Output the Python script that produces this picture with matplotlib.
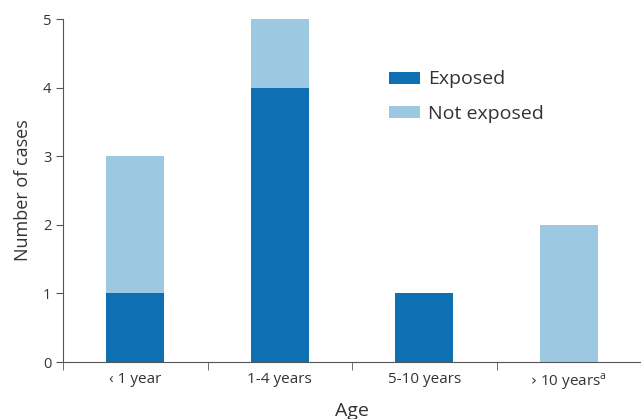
import matplotlib.pyplot as plt
import numpy as np

plt.rcParams['font.family'] = ['Open Sans', 'DejaVu Sans']

age_groups = ['\u2039 1 year', '1-4 years', '5-10 years', '\u203a 10 years$^{\\mathregular{a}}$']
exposed = [1, 4, 1, 0]
not_exposed = [2, 1, 0, 2]

dark = '#0e6fb2'
light = '#9cc8e2'
text_col = '#333333'

fig = plt.figure(figsize=(6.41, 4.19), dpi=100)
ax = fig.add_axes([0.0983, 0.136, 0.9017, 0.8186])

x = np.arange(len(age_groups))
ax.bar(x, exposed, width=0.4, color=dark, label='Exposed')
ax.bar(x, not_exposed, width=0.4, bottom=exposed, color=light, label='Not exposed')

ax.set_xlim(-0.5, 3.5)
ax.set_ylim(0, 5)
ax.set_yticks(range(6))
ax.set_xticks(x)
ax.set_xticklabels(age_groups)
ax.set_xticks(np.arange(-0.5, 4, 1), minor=True)
ax.tick_params(axis='x', which='major', length=0, pad=7, labelsize=11, colors=text_col)
ax.tick_params(axis='x', which='minor', length=6, color='#555555')
ax.tick_params(axis='y', length=5, labelsize=10.5, colors=text_col, color='#555555')

for s in ['top', 'right']:
    ax.spines[s].set_visible(False)
for s in ['left', 'bottom']:
    ax.spines[s].set_color('#555555')
    ax.spines[s].set_linewidth(0.8)

ax.set_ylabel('Number of cases', fontsize=13, color=text_col, labelpad=8)
ax.set_xlabel('Age', fontsize=14, color=text_col, labelpad=7)

ax.legend(loc='upper left', bbox_to_anchor=(0.564, 0.85), frameon=False,
          fontsize=14, handlelength=1.6, handleheight=0.57, handletextpad=0.4,
          labelcolor=text_col, labelspacing=0.85, borderpad=0, borderaxespad=0)

fig.savefig('out.png', dpi=100)
